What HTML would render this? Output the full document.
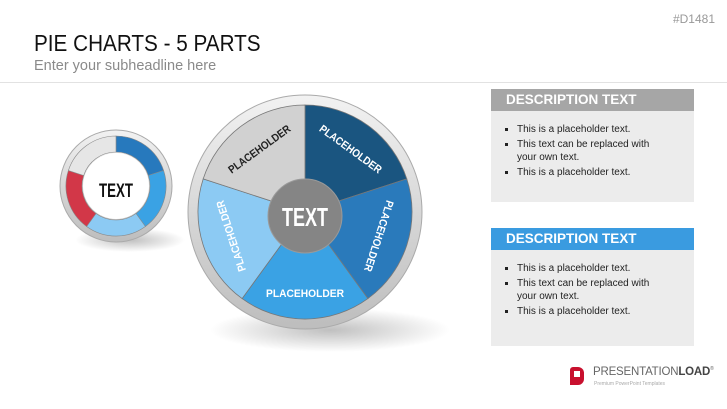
<!DOCTYPE html>
<html><head><meta charset="utf-8"><style>
body{margin:0;width:727px;height:409px;overflow:hidden;background:#fff;font-family:"Liberation Sans",sans-serif;position:relative}
.t{position:absolute;left:34px;top:30px;font-size:23px;color:#111;transform:scaleX(.9);transform-origin:0 0;white-space:nowrap}
.s{position:absolute;left:34px;top:58px;font-size:14.5px;color:#8a8a8a}
.id{position:absolute;right:12px;top:12px;font-size:12px;color:#999}
.box{position:absolute;left:491px;width:203px;background:#ececec}
.hd{height:22px;color:#fff;font-weight:bold;font-size:13.5px;line-height:22px;padding-left:15px}
ul{margin:13px 0 0 0;padding-left:26px;padding-right:28px;font-size:10px;color:#222;line-height:12.5px;list-style:square}
li{margin-bottom:2.5px}
</style></head><body>
<div class="id">#D1481</div>
<div class="t">PIE CHARTS - 5 PARTS</div>
<div class="s">Enter your subheadline here</div>
<div style="position:absolute;left:0;top:82px;width:727px;height:1px;background:#e2e2e2"></div>
<svg width="727" height="409" style="position:absolute;left:0;top:0">
<defs>
<radialGradient id="sh" cx="50%" cy="50%" r="50%"><stop offset="0" stop-color="#000" stop-opacity=".25"/><stop offset="1" stop-color="#000" stop-opacity="0"/></radialGradient>
<linearGradient id="rim" x1="0" y1="0" x2="0" y2="1"><stop offset="0" stop-color="#f2f2f2"/><stop offset="1" stop-color="#bdbdbd"/></linearGradient>
</defs>
<ellipse cx="330" cy="330" rx="120" ry="22" fill="url(#sh)"/>
<ellipse cx="130" cy="240" rx="55" ry="12" fill="url(#sh)"/>
<circle cx="305" cy="212" r="117" fill="url(#rim)" stroke="#aaa" stroke-width="1"/>
<g transform="translate(305,212)" stroke="#777" stroke-width=".8">
<path d="M0,0 L0,-107 A107,107 0 0 1 101.8,-33.1 Z" fill="#1a5580"/>
<path d="M0,0 L101.8,-33.1 A107,107 0 0 1 62.9,86.6 Z" fill="#2a7abb"/>
<path d="M0,0 L62.9,86.6 A107,107 0 0 1 -62.9,86.6 Z" fill="#3aa2e4"/>
<path d="M0,0 L-62.9,86.6 A107,107 0 0 1 -101.8,-33.1 Z" fill="#8ccaf3"/>
<path d="M0,0 L-101.8,-33.1 A107,107 0 0 1 0,-107 Z" fill="#d1d1d1"/>
</g>
<circle cx="305" cy="216" r="37" fill="#858585" stroke="#9a9a9a"/>
<text x="305" y="226" text-anchor="middle" font-size="26" font-weight="bold" fill="#fff" textLength="46" lengthAdjust="spacingAndGlyphs">TEXT</text>
<g font-size="11" font-weight="bold" text-anchor="middle">
<text transform="translate(305,212) rotate(36) translate(0,-74)" fill="#fff" textLength="74" lengthAdjust="spacingAndGlyphs">PLACEHOLDER</text>
<text transform="translate(305,212) rotate(108) translate(0,-74)" fill="#fff" textLength="74" lengthAdjust="spacingAndGlyphs">PLACEHOLDER</text>
<text transform="translate(305,212) translate(0,85)" fill="#fff" textLength="78" lengthAdjust="spacingAndGlyphs">PLACEHOLDER</text>
<text transform="translate(305,212) rotate(-108) translate(0,-74)" fill="#fff" textLength="74" lengthAdjust="spacingAndGlyphs">PLACEHOLDER</text>
<text transform="translate(305,212) rotate(-36) translate(0,-74)" fill="#222" textLength="74" lengthAdjust="spacingAndGlyphs">PLACEHOLDER</text>
</g>
<circle cx="116" cy="186" r="56" fill="url(#rim)" stroke="#aaa"/>
<g transform="translate(116,186)" stroke="#888" stroke-width=".6">
<path d="M0,-50 A50,50 0 0 1 47.6,-15.5 L32.3,-10.5 A34,34 0 0 0 0,-34 Z" fill="#2779bd"/>
<path d="M47.6,-15.5 A50,50 0 0 1 29.4,40.5 L20,27.5 A34,34 0 0 0 32.3,-10.5 Z" fill="#3aa2e4"/>
<path d="M29.4,40.5 A50,50 0 0 1 -29.4,40.5 L-20,27.5 A34,34 0 0 0 20,27.5 Z" fill="#8ccaf3"/>
<path d="M-29.4,40.5 A50,50 0 0 1 -47.6,-15.5 L-32.3,-10.5 A34,34 0 0 0 -20,27.5 Z" fill="#d23748"/>
<path d="M-47.6,-15.5 A50,50 0 0 1 0,-50 L0,-34 A34,34 0 0 0 -32.3,-10.5 Z" fill="#e6e6e6"/>
</g>
<circle cx="116" cy="186" r="33" fill="#fff"/>
<text x="116" y="197" text-anchor="middle" font-size="19" font-weight="bold" fill="#111" textLength="34" lengthAdjust="spacingAndGlyphs">TEXT</text>
</svg>
<div class="box" style="top:89px;height:113px"><div class="hd" style="background:#a6a6a6">DESCRIPTION TEXT</div>
<ul><li>This is a placeholder text.</li><li>This text can be replaced with your own text.</li><li>This is a placeholder text.</li></ul></div>
<div class="box" style="top:228px;height:118px"><div class="hd" style="background:#3a9be0">DESCRIPTION TEXT</div>
<ul><li>This is a placeholder text.</li><li>This text can be replaced with your own text.</li><li>This is a placeholder text.</li></ul></div>
<div style="position:absolute;left:570px;top:367px;width:14px;height:18px;background:#c8102e;border-radius:3px 6px 6px 0"></div>
<div style="position:absolute;left:574px;top:371px;width:6px;height:6px;background:#fff"></div>
<div style="position:absolute;left:593px;top:366px;font-size:11.5px;color:#666;letter-spacing:-.2px">PRESENTATION<b style="color:#444">LOAD</b><sup style="font-size:5px">®</sup></div>
<div style="position:absolute;left:594px;top:381px;font-size:5px;color:#aaa">Premium PowerPoint Templates</div>
</body></html>
